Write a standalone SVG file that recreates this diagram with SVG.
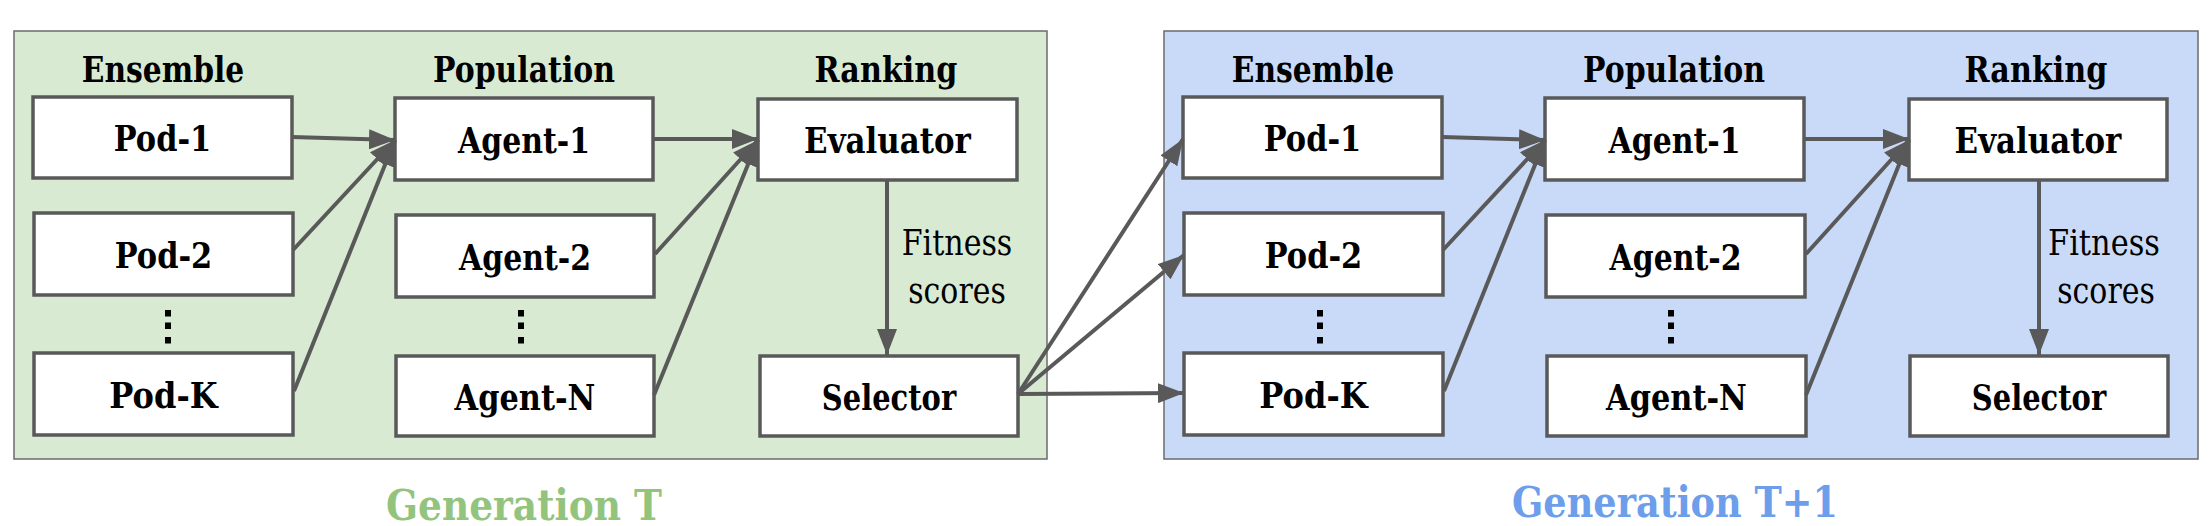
<svg xmlns="http://www.w3.org/2000/svg" width="2210" height="526" viewBox="0 0 2210 526">
<defs>
<style>
text{font-family:'DejaVu Serif','Liberation Serif',serif}
.panel{stroke:#6b6b6b;stroke-width:1.5}
.box{fill:#ffffff;stroke:#595959;stroke-width:3.5}
.lbl{font-weight:bold;font-size:35.5px;fill:#000;text-anchor:middle}
.note{font-size:35.5px;fill:#000;text-anchor:middle}
.gen{font-weight:bold;font-size:43.5px}
.edge{stroke:#595959;stroke-width:4;fill:none;marker-end:url(#ah)}
.dot{fill:#000}
</style>
<marker id="ah" viewBox="0 0 26 20" refX="26" refY="10" markerWidth="26" markerHeight="20" markerUnits="userSpaceOnUse" orient="auto">
<path d="M0,0 L26,10 L0,20 z" fill="#595959"/>
</marker>
</defs>
<rect width="2210" height="526" fill="#ffffff"/>

<g id="panel-gen-t">
<rect class="panel" x="14" y="31" width="1033" height="428" fill="#d9ead3"/>
<text class="gen" x="386" y="520" fill="#93c47d" textLength="276" lengthAdjust="spacingAndGlyphs">Generation T</text>
<text class="lbl" x="163" y="82" textLength="162.5" lengthAdjust="spacingAndGlyphs">Ensemble</text>
<text class="lbl" x="524" y="82" textLength="182" lengthAdjust="spacingAndGlyphs">Population</text>
<text class="lbl" x="886" y="82" textLength="143" lengthAdjust="spacingAndGlyphs">Ranking</text>
</g>
<g id="panel-gen-t1">
<rect class="panel" x="1164" y="31" width="1034" height="428" fill="#c9daf8"/>
<text class="gen" x="1512" y="517" fill="#6d9eeb" textLength="326" lengthAdjust="spacingAndGlyphs">Generation T+1</text>
<text class="lbl" x="1313" y="82" textLength="162.5" lengthAdjust="spacingAndGlyphs">Ensemble</text>
<text class="lbl" x="1674" y="82" textLength="182" lengthAdjust="spacingAndGlyphs">Population</text>
<text class="lbl" x="2036" y="82" textLength="143" lengthAdjust="spacingAndGlyphs">Ranking</text>
</g>

<g id="t-pod-1"><rect class="box" x="33" y="97" width="259" height="81"/><text class="lbl" x="162.5" y="151" textLength="97.5" lengthAdjust="spacingAndGlyphs">Pod-1</text></g>
<g id="t-pod-2"><rect class="box" x="34" y="213" width="259" height="82"/><text class="lbl" x="163.5" y="267.5" textLength="97.5" lengthAdjust="spacingAndGlyphs">Pod-2</text></g>
<g id="t-pod-dots"><rect class="dot" x="165" y="310" width="6" height="6.5"/><rect class="dot" x="165" y="322.5" width="6" height="6.5"/><rect class="dot" x="165" y="337" width="6" height="6.5"/></g>
<g id="t-pod-k"><rect class="box" x="34" y="353" width="259" height="82"/><text class="lbl" x="163.5" y="407.5" textLength="108.3" lengthAdjust="spacingAndGlyphs">Pod-K</text></g>
<g id="t-agent-1"><rect class="box" x="395" y="98" width="258" height="82"/><text class="lbl" x="524" y="152.5" textLength="132" lengthAdjust="spacingAndGlyphs">Agent-1</text></g>
<g id="t-agent-2"><rect class="box" x="396" y="215" width="258" height="82"/><text class="lbl" x="525" y="269.5" textLength="132" lengthAdjust="spacingAndGlyphs">Agent-2</text></g>
<g id="t-agent-dots"><rect class="dot" x="518" y="310" width="6" height="6.5"/><rect class="dot" x="518" y="322.5" width="6" height="6.5"/><rect class="dot" x="518" y="337" width="6" height="6.5"/></g>
<g id="t-agent-n"><rect class="box" x="396" y="356" width="258" height="80"/><text class="lbl" x="525" y="409.5" textLength="140.8" lengthAdjust="spacingAndGlyphs">Agent-N</text></g>
<g id="t-evaluator"><rect class="box" x="758" y="99" width="259" height="81"/><text class="lbl" x="887.5" y="153" textLength="166.8" lengthAdjust="spacingAndGlyphs">Evaluator</text></g>
<g id="t-selector"><rect class="box" x="760" y="356" width="258" height="80"/><text class="lbl" x="889" y="409.5" textLength="134.3" lengthAdjust="spacingAndGlyphs">Selector</text></g>
<g id="t-fitness-label"><text class="note" x="957" y="255" textLength="110.5" lengthAdjust="spacingAndGlyphs">Fitness</text><text class="note" x="957" y="303" textLength="97.5" lengthAdjust="spacingAndGlyphs">scores</text></g>

<g id="t1-pod-1"><rect class="box" x="1183" y="97" width="259" height="81"/><text class="lbl" x="1312.5" y="151" textLength="97.5" lengthAdjust="spacingAndGlyphs">Pod-1</text></g>
<g id="t1-pod-2"><rect class="box" x="1184" y="213" width="259" height="82"/><text class="lbl" x="1313.5" y="267.5" textLength="97.5" lengthAdjust="spacingAndGlyphs">Pod-2</text></g>
<g id="t1-pod-dots"><rect class="dot" x="1317" y="310" width="6" height="6.5"/><rect class="dot" x="1317" y="322.5" width="6" height="6.5"/><rect class="dot" x="1317" y="337" width="6" height="6.5"/></g>
<g id="t1-pod-k"><rect class="box" x="1184" y="353" width="259" height="82"/><text class="lbl" x="1313.5" y="407.5" textLength="108.3" lengthAdjust="spacingAndGlyphs">Pod-K</text></g>
<g id="t1-agent-1"><rect class="box" x="1545" y="98" width="259" height="82"/><text class="lbl" x="1674.5" y="152.5" textLength="132" lengthAdjust="spacingAndGlyphs">Agent-1</text></g>
<g id="t1-agent-2"><rect class="box" x="1546" y="215" width="259" height="82"/><text class="lbl" x="1675.5" y="269.5" textLength="132" lengthAdjust="spacingAndGlyphs">Agent-2</text></g>
<g id="t1-agent-dots"><rect class="dot" x="1668" y="310" width="6" height="6.5"/><rect class="dot" x="1668" y="322.5" width="6" height="6.5"/><rect class="dot" x="1668" y="337" width="6" height="6.5"/></g>
<g id="t1-agent-n"><rect class="box" x="1547" y="356" width="259" height="80"/><text class="lbl" x="1676.5" y="409.5" textLength="140.8" lengthAdjust="spacingAndGlyphs">Agent-N</text></g>
<g id="t1-evaluator"><rect class="box" x="1909" y="99" width="258" height="81"/><text class="lbl" x="2038" y="153" textLength="166.8" lengthAdjust="spacingAndGlyphs">Evaluator</text></g>
<g id="t1-selector"><rect class="box" x="1910" y="356" width="258" height="80"/><text class="lbl" x="2039" y="409.5" textLength="134.3" lengthAdjust="spacingAndGlyphs">Selector</text></g>
<g id="t1-fitness-label"><text class="note" x="2104" y="255" textLength="112" lengthAdjust="spacingAndGlyphs">Fitness</text><text class="note" x="2106" y="303" textLength="97.5" lengthAdjust="spacingAndGlyphs">scores</text></g>

<g id="connectors">
<line class="edge" x1="292" y1="137" x2="395" y2="140"/>
<line class="edge" x1="293" y1="250" x2="395" y2="140"/>
<line class="edge" x1="294" y1="391" x2="395" y2="140"/>
<line class="edge" x1="653" y1="139" x2="758" y2="139"/>
<line class="edge" x1="655" y1="254" x2="758" y2="140"/>
<line class="edge" x1="654" y1="395" x2="758" y2="140"/>
<line class="edge" x1="887" y1="180" x2="887" y2="355"/>
<line class="edge" x1="1018" y1="394" x2="1183" y2="139"/>
<line class="edge" x1="1018" y1="394" x2="1184" y2="255"/>
<line class="edge" x1="1018" y1="394" x2="1184" y2="393"/>
<line class="edge" x1="1442" y1="137" x2="1545" y2="140"/>
<line class="edge" x1="1443" y1="250" x2="1545" y2="140"/>
<line class="edge" x1="1444" y1="391" x2="1545" y2="140"/>
<line class="edge" x1="1804" y1="139" x2="1909" y2="139"/>
<line class="edge" x1="1806" y1="254" x2="1909" y2="140"/>
<line class="edge" x1="1806" y1="395" x2="1909" y2="140"/>
<line class="edge" x1="2039" y1="180" x2="2039" y2="355"/>
</g>
</svg>
